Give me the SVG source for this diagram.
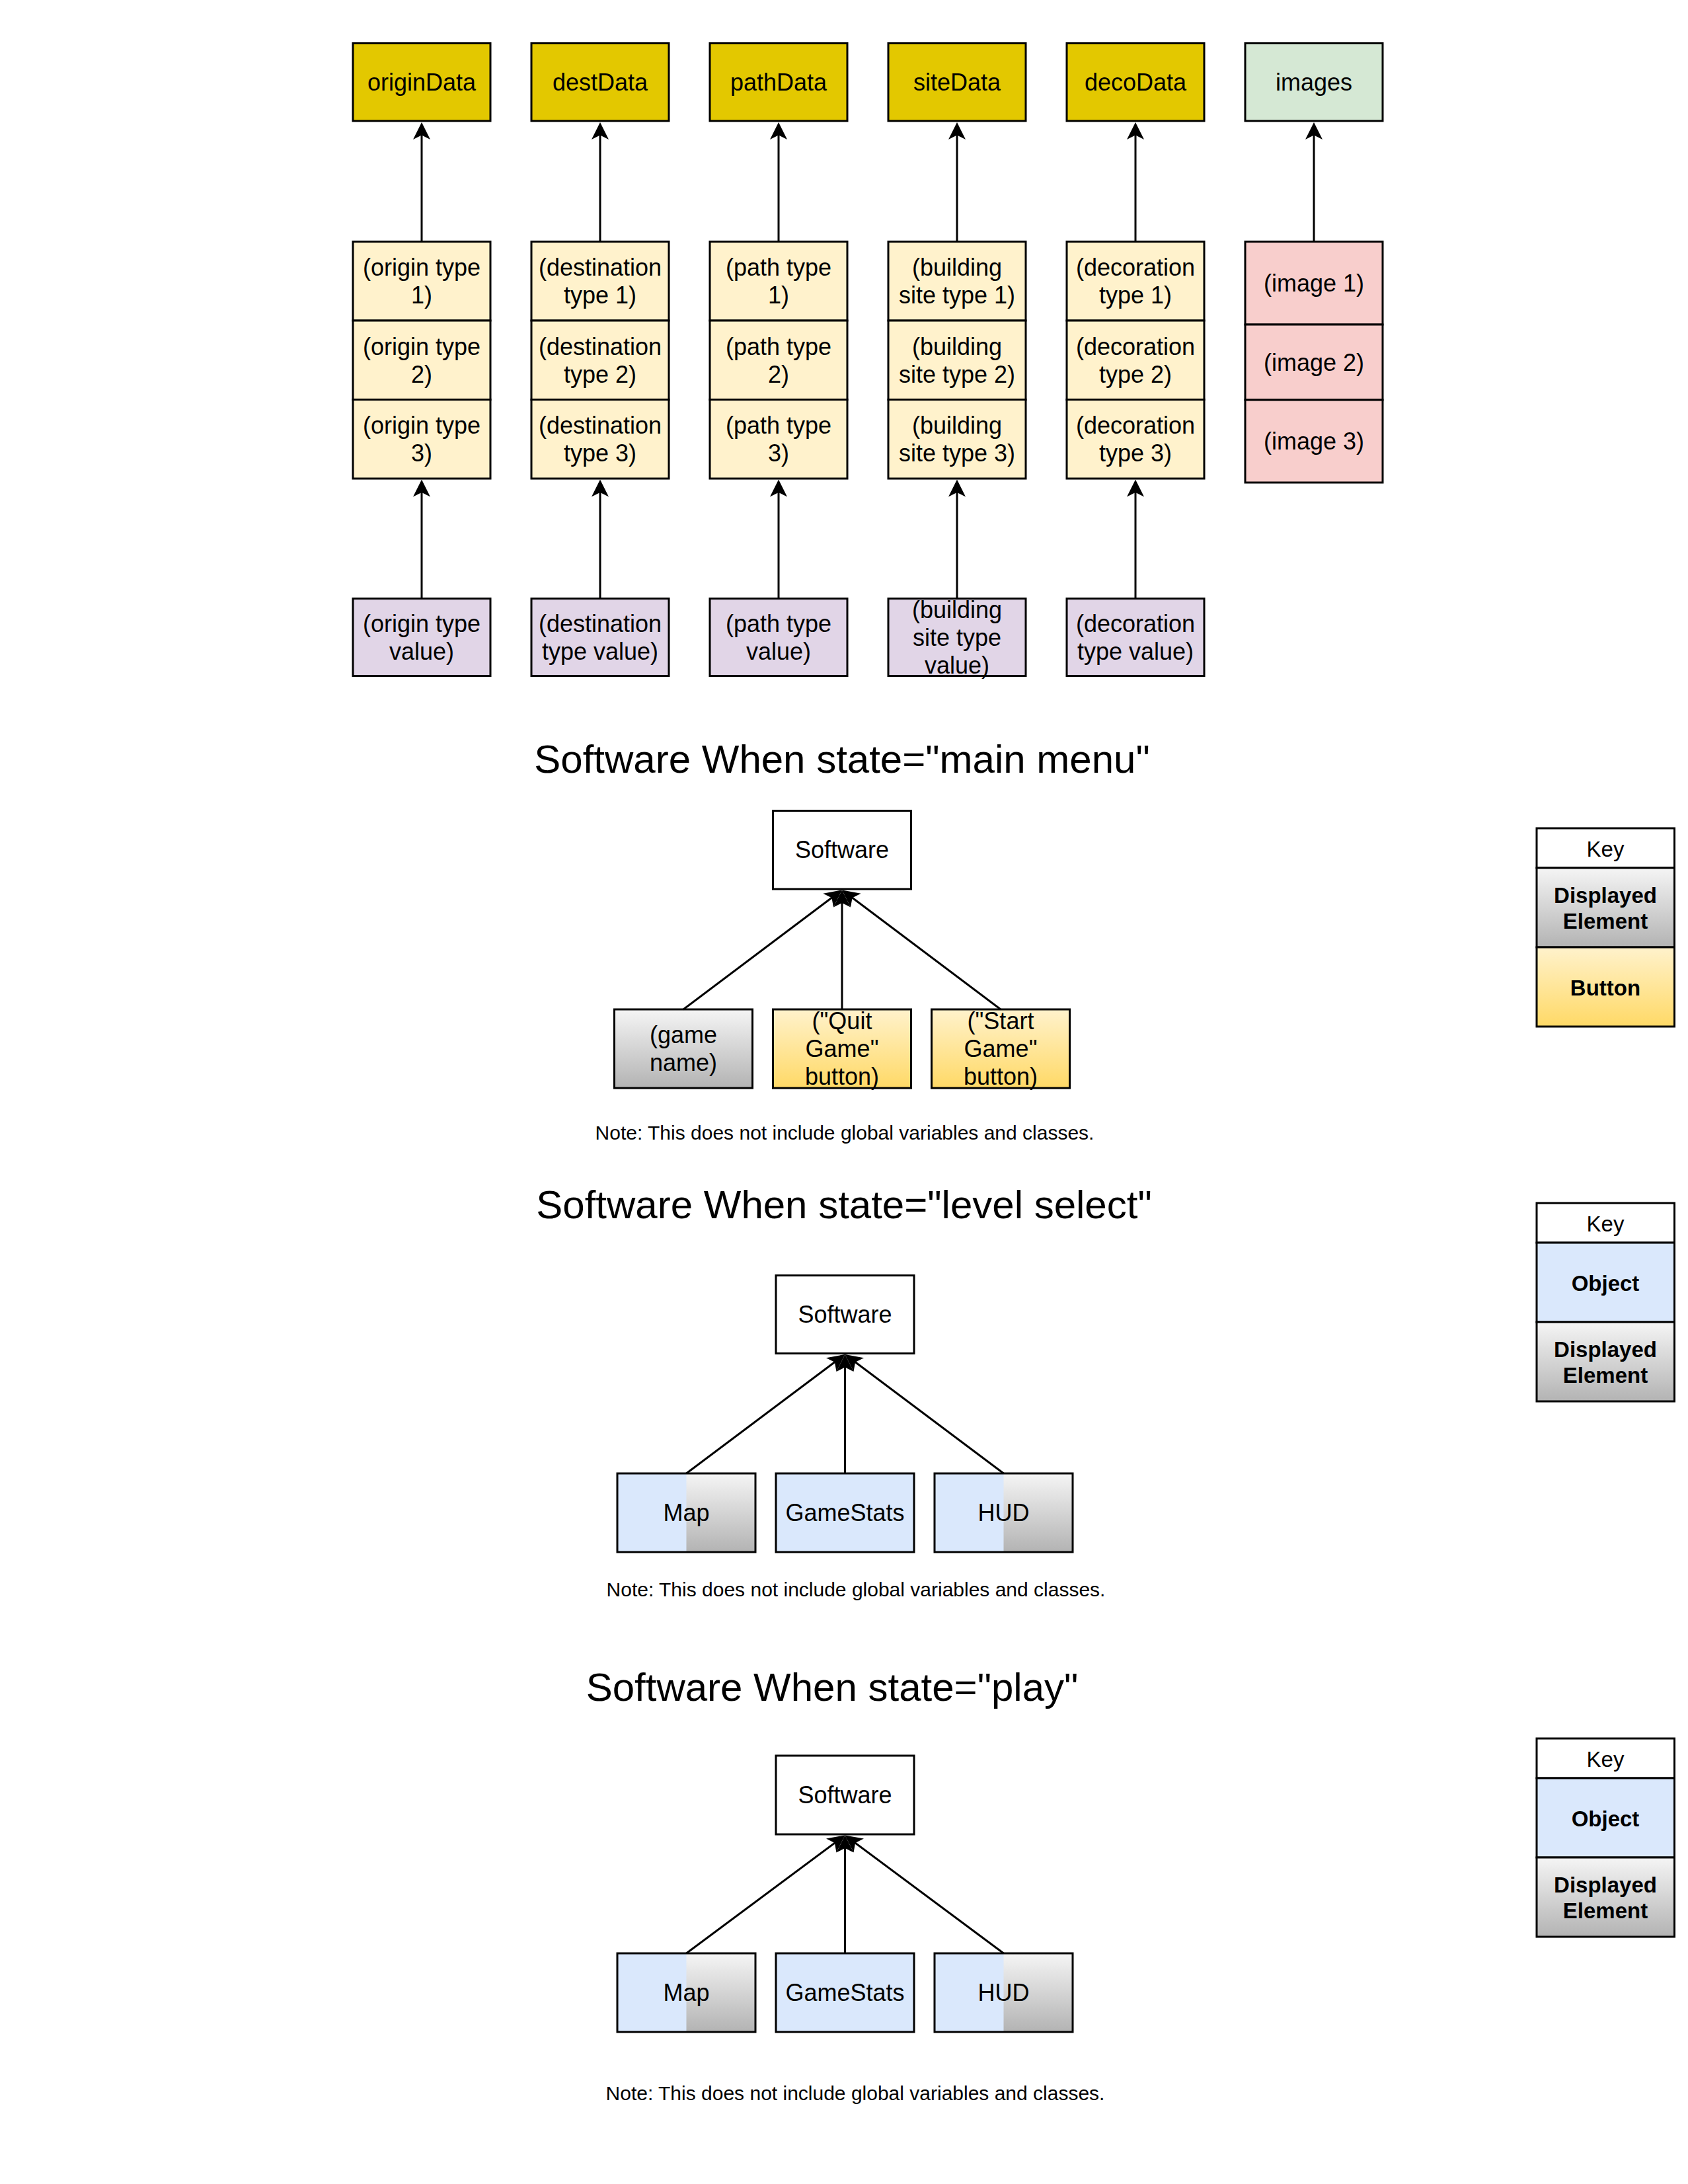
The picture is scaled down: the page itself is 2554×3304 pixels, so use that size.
<svg xmlns="http://www.w3.org/2000/svg" width="2554" height="3304" viewBox="0 0 2554 3304">
<defs>
<style>
text{font-family:"Liberation Sans",Arial,Helvetica,sans-serif;fill:#000;text-anchor:middle}
.lb{font-size:36px}
.kt{font-size:33px}
.kb{font-size:33px;font-weight:bold}
.tt{font-size:60px}
.nt{font-size:30px}
.bx{stroke:#000;stroke-width:3}
.data{fill:#e3c800}
.item{fill:#fff2cc}
.val{fill:#e1d5e7}
.img{fill:#d5e8d4}
.imgi{fill:#f8cecc}
.wh{fill:#ffffff}
.obj{fill:#dae8fc}
.disp{fill:url(#gDisp)}
.btn{fill:url(#gBtn)}
.ol{fill:none;stroke:#000;stroke-width:3}
.cn{fill:none;stroke:#000;stroke-width:3;marker-end:url(#arr)}
</style>
<linearGradient id="gDisp" x1="0" y1="0" x2="0" y2="1">
<stop offset="0" stop-color="#f5f5f5"/>
<stop offset="1" stop-color="#b3b3b3"/>
</linearGradient>
<linearGradient id="gBtn" x1="0" y1="0" x2="0" y2="1">
<stop offset="0" stop-color="#fff2cc"/>
<stop offset="1" stop-color="#ffd966"/>
</linearGradient>
<marker id="arr" viewBox="0 -14 27 28" refX="8" refY="0" markerWidth="27" markerHeight="28" markerUnits="userSpaceOnUse" orient="auto">
<path d="M26,0 L0,-13 L6.5,0 L0,13 Z" fill="#000" stroke="none"/>
</marker>
</defs>
<rect x="0" y="0" width="2554" height="3304" fill="#ffffff"/>

<!-- ===== Data section ===== -->
<g id="originData"><rect class="bx data" x="534" y="65.5" width="208" height="117.5"/><text class="lb" x="638" y="137">originData</text></g>
<g id="destData"><rect class="bx data" x="804" y="65.5" width="208" height="117.5"/><text class="lb" x="908" y="137">destData</text></g>
<g id="pathData"><rect class="bx data" x="1074" y="65.5" width="208" height="117.5"/><text class="lb" x="1178" y="137">pathData</text></g>
<g id="siteData"><rect class="bx data" x="1344" y="65.5" width="208" height="117.5"/><text class="lb" x="1448" y="137">siteData</text></g>
<g id="decoData"><rect class="bx data" x="1614" y="65.5" width="208" height="117.5"/><text class="lb" x="1718" y="137">decoData</text></g>
<g id="images"><rect class="bx img" x="1884" y="65.5" width="208" height="117.5"/><text class="lb" x="1988" y="137">images</text></g>

<g id="originTypes">
<rect class="bx item" x="534" y="365.5" width="208" height="119.5"/>
<rect class="bx item" x="534" y="485" width="208" height="119.5"/>
<rect class="bx item" x="534" y="604.5" width="208" height="119.5"/>
<text class="lb" x="638" y="417">(origin type</text><text class="lb" x="638" y="459">1)</text>
<text class="lb" x="638" y="536.5">(origin type</text><text class="lb" x="638" y="578.5">2)</text>
<text class="lb" x="638" y="656">(origin type</text><text class="lb" x="638" y="698">3)</text>
</g>
<g id="destTypes">
<rect class="bx item" x="804" y="365.5" width="208" height="119.5"/>
<rect class="bx item" x="804" y="485" width="208" height="119.5"/>
<rect class="bx item" x="804" y="604.5" width="208" height="119.5"/>
<text class="lb" x="908" y="417">(destination</text><text class="lb" x="908" y="459">type 1)</text>
<text class="lb" x="908" y="536.5">(destination</text><text class="lb" x="908" y="578.5">type 2)</text>
<text class="lb" x="908" y="656">(destination</text><text class="lb" x="908" y="698">type 3)</text>
</g>
<g id="pathTypes">
<rect class="bx item" x="1074" y="365.5" width="208" height="119.5"/>
<rect class="bx item" x="1074" y="485" width="208" height="119.5"/>
<rect class="bx item" x="1074" y="604.5" width="208" height="119.5"/>
<text class="lb" x="1178" y="417">(path type</text><text class="lb" x="1178" y="459">1)</text>
<text class="lb" x="1178" y="536.5">(path type</text><text class="lb" x="1178" y="578.5">2)</text>
<text class="lb" x="1178" y="656">(path type</text><text class="lb" x="1178" y="698">3)</text>
</g>
<g id="siteTypes">
<rect class="bx item" x="1344" y="365.5" width="208" height="119.5"/>
<rect class="bx item" x="1344" y="485" width="208" height="119.5"/>
<rect class="bx item" x="1344" y="604.5" width="208" height="119.5"/>
<text class="lb" x="1448" y="417">(building</text><text class="lb" x="1448" y="459">site type 1)</text>
<text class="lb" x="1448" y="536.5">(building</text><text class="lb" x="1448" y="578.5">site type 2)</text>
<text class="lb" x="1448" y="656">(building</text><text class="lb" x="1448" y="698">site type 3)</text>
</g>
<g id="decoTypes">
<rect class="bx item" x="1614" y="365.5" width="208" height="119.5"/>
<rect class="bx item" x="1614" y="485" width="208" height="119.5"/>
<rect class="bx item" x="1614" y="604.5" width="208" height="119.5"/>
<text class="lb" x="1718" y="417">(decoration</text><text class="lb" x="1718" y="459">type 1)</text>
<text class="lb" x="1718" y="536.5">(decoration</text><text class="lb" x="1718" y="578.5">type 2)</text>
<text class="lb" x="1718" y="656">(decoration</text><text class="lb" x="1718" y="698">type 3)</text>
</g>
<g id="imageList">
<rect class="bx imgi" x="1884" y="365.5" width="208" height="125.5"/>
<rect class="bx imgi" x="1884" y="491" width="208" height="114"/>
<rect class="bx imgi" x="1884" y="605" width="208" height="125"/>
<text class="lb" x="1988" y="440.5">(image 1)</text>
<text class="lb" x="1988" y="560.5">(image 2)</text>
<text class="lb" x="1988" y="680">(image 3)</text>
</g>

<g id="originValue"><rect class="bx val" x="534" y="905.5" width="208" height="117"/><text class="lb" x="638" y="955.5">(origin type</text><text class="lb" x="638" y="997.5">value)</text></g>
<g id="destValue"><rect class="bx val" x="804" y="905.5" width="208" height="117"/><text class="lb" x="908" y="955.5">(destination</text><text class="lb" x="908" y="997.5">type value)</text></g>
<g id="pathValue"><rect class="bx val" x="1074" y="905.5" width="208" height="117"/><text class="lb" x="1178" y="955.5">(path type</text><text class="lb" x="1178" y="997.5">value)</text></g>
<g id="siteValue"><rect class="bx val" x="1344" y="905.5" width="208" height="117"/><text class="lb" x="1448" y="934.5">(building</text><text class="lb" x="1448" y="976.5">site type</text><text class="lb" x="1448" y="1018.5">value)</text></g>
<g id="decoValue"><rect class="bx val" x="1614" y="905.5" width="208" height="117"/><text class="lb" x="1718" y="955.5">(decoration</text><text class="lb" x="1718" y="997.5">type value)</text></g>

<!-- ===== Main menu ===== -->
<g id="titleMainMenu"><text class="tt" x="1274" y="1169">Software When state="main menu"</text></g>
<g id="softwareMain"><rect class="bx wh" x="1169.5" y="1226.5" width="209" height="118.5"/><text class="lb" x="1274" y="1298">Software</text></g>
<g id="gameName"><rect class="bx disp" x="929.5" y="1527" width="209" height="119"/><text class="lb" x="1034" y="1578">(game</text><text class="lb" x="1034" y="1620">name)</text></g>
<g id="quitButton"><rect class="bx btn" x="1169.5" y="1527" width="209" height="119"/><text class="lb" x="1274" y="1557">("Quit</text><text class="lb" x="1274" y="1599">Game"</text><text class="lb" x="1274" y="1641">button)</text></g>
<g id="startButton"><rect class="bx btn" x="1409.5" y="1527" width="209" height="119"/><text class="lb" x="1514" y="1557">("Start</text><text class="lb" x="1514" y="1599">Game"</text><text class="lb" x="1514" y="1641">button)</text></g>
<g id="noteMain"><text class="nt" x="1278" y="1724">Note: This does not include global variables and classes.</text></g>
<g id="key1">
<rect class="bx wh" x="2325" y="1253" width="208.5" height="60"/>
<rect class="bx disp" x="2325" y="1313" width="208.5" height="120"/>
<rect class="bx btn" x="2325" y="1433" width="208.5" height="120"/>
<text class="kt" x="2429" y="1295.5">Key</text>
<text class="kb" x="2429" y="1366">Displayed</text><text class="kb" x="2429" y="1404.5">Element</text>
<text class="kb" x="2429" y="1505.5">Button</text>
</g>

<!-- ===== Level select ===== -->
<g id="titleLevelSelect"><text class="tt" x="1277" y="1843">Software When state="level select"</text></g>
<g id="softwareLevel"><rect class="bx wh" x="1174" y="1929.5" width="209" height="118"/><text class="lb" x="1278.5" y="2001">Software</text></g>
<g id="mapLevel"><rect class="obj" x="934" y="2229" width="209" height="119"/><rect class="disp" x="1038.5" y="2229" width="104.5" height="119"/><rect class="ol" x="934" y="2229" width="209" height="119"/><text class="lb" x="1038.5" y="2301">Map</text></g>
<g id="gameStatsLevel"><rect class="bx obj" x="1174" y="2229" width="209" height="119"/><text class="lb" x="1278.5" y="2301">GameStats</text></g>
<g id="hudLevel"><rect class="obj" x="1414" y="2229" width="209" height="119"/><rect class="disp" x="1518.5" y="2229" width="104.5" height="119"/><rect class="ol" x="1414" y="2229" width="209" height="119"/><text class="lb" x="1518.5" y="2301">HUD</text></g>
<g id="noteLevel"><text class="nt" x="1295" y="2415">Note: This does not include global variables and classes.</text></g>
<g id="key2">
<rect class="bx wh" x="2325" y="1820" width="208.5" height="60"/>
<rect class="bx obj" x="2325" y="1880" width="208.5" height="120"/>
<rect class="bx disp" x="2325" y="2000" width="208.5" height="120"/>
<text class="kt" x="2429" y="1862.5">Key</text>
<text class="kb" x="2429" y="1952.5">Object</text>
<text class="kb" x="2429" y="2053">Displayed</text><text class="kb" x="2429" y="2091.5">Element</text>
</g>

<!-- ===== Play ===== -->
<g id="titlePlay"><text class="tt" x="1259" y="2573">Software When state="play"</text></g>
<g id="softwarePlay"><rect class="bx wh" x="1174" y="2656" width="209" height="119"/><text class="lb" x="1278.5" y="2728">Software</text></g>
<g id="mapPlay"><rect class="obj" x="934" y="2955" width="209" height="119"/><rect class="disp" x="1038.5" y="2955" width="104.5" height="119"/><rect class="ol" x="934" y="2955" width="209" height="119"/><text class="lb" x="1038.5" y="3027">Map</text></g>
<g id="gameStatsPlay"><rect class="bx obj" x="1174" y="2955" width="209" height="119"/><text class="lb" x="1278.5" y="3027">GameStats</text></g>
<g id="hudPlay"><rect class="obj" x="1414" y="2955" width="209" height="119"/><rect class="disp" x="1518.5" y="2955" width="104.5" height="119"/><rect class="ol" x="1414" y="2955" width="209" height="119"/><text class="lb" x="1518.5" y="3027">HUD</text></g>
<g id="notePlay"><text class="nt" x="1294" y="3177">Note: This does not include global variables and classes.</text></g>
<g id="key3">
<rect class="bx wh" x="2325" y="2630" width="208.5" height="60"/>
<rect class="bx obj" x="2325" y="2690" width="208.5" height="120"/>
<rect class="bx disp" x="2325" y="2810" width="208.5" height="120"/>
<text class="kt" x="2429" y="2672.5">Key</text>
<text class="kb" x="2429" y="2762.5">Object</text>
<text class="kb" x="2429" y="2863">Displayed</text><text class="kb" x="2429" y="2901.5">Element</text>
</g>

<!-- ===== Connectors ===== -->
<g id="connectors">
<path class="cn" d="M638,364 L638,203"/>
<path class="cn" d="M908,364 L908,203"/>
<path class="cn" d="M1178,364 L1178,203"/>
<path class="cn" d="M1448,364 L1448,203"/>
<path class="cn" d="M1718,364 L1718,203"/>
<path class="cn" d="M1988,364 L1988,203"/>
<path class="cn" d="M638,904 L638,743.5"/>
<path class="cn" d="M908,904 L908,743.5"/>
<path class="cn" d="M1178,904 L1178,743.5"/>
<path class="cn" d="M1448,904 L1448,743.5"/>
<path class="cn" d="M1718,904 L1718,743.5"/>

<path class="cn" d="M1034,1527 L1259.6,1357.3"/>
<path class="cn" d="M1274,1527 L1274,1364.5"/>
<path class="cn" d="M1514,1527 L1288.4,1357.3"/>

<path class="cn" d="M1038.5,2229 L1264.1,2059.8"/>
<path class="cn" d="M1278.5,2229 L1278.5,2067"/>
<path class="cn" d="M1518.5,2229 L1292.9,2059.8"/>

<path class="cn" d="M1038.5,2955 L1264.1,2787.2"/>
<path class="cn" d="M1278.5,2955 L1278.5,2794.5"/>
<path class="cn" d="M1518.5,2955 L1292.9,2787.2"/>
</g>
</svg>
